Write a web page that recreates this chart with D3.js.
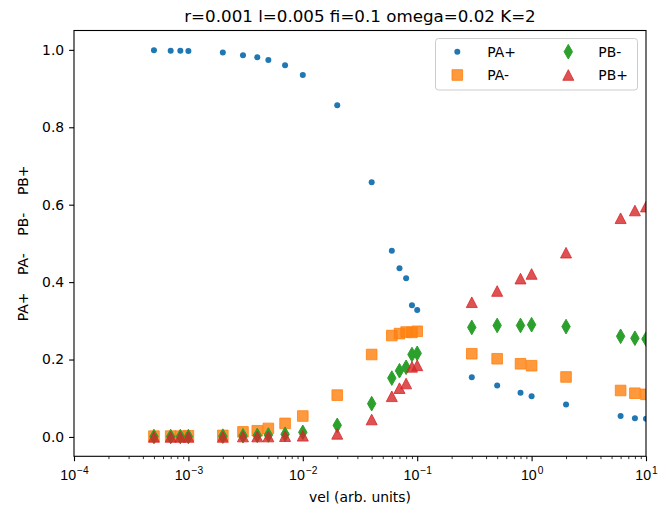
<!DOCTYPE html>
<html>
<head>
<meta charset="utf-8">
<script src="https://cdn.jsdelivr.net/npm/d3@7"></script>
<style>
  html, body { margin: 0; padding: 0; background: #fff; }
  svg { display: block; font-family: "DejaVu Sans", sans-serif; }
</style>
</head>
<body>
<svg id="chart" width="659" height="515"></svg>
<script>
// Velocity sweep (shared x values)
const vel = [5e-4, 7e-4, 8.5e-4, 1e-3, 2e-3, 3e-3, 4e-3, 5e-3, 7e-3, 1e-2, 2e-2, 4e-2,
             6e-2, 7e-2, 8e-2, 9e-2, 0.1, 0.3, 0.5, 0.8, 1, 2, 6, 8, 10];

// Populations
const paPlus  = [0.999, 0.998, 0.998, 0.997, 0.993, 0.986, 0.981, 0.974, 0.960, 0.935, 0.857, 0.658,
                 0.481, 0.436, 0.410, 0.340, 0.328, 0.154, 0.133, 0.114, 0.105, 0.084, 0.054, 0.048, 0.047];
const paMinus = [0.002, 0.002, 0.002, 0.003, 0.004, 0.013, 0.016, 0.022, 0.035, 0.054, 0.108, 0.213,
                 0.262, 0.267, 0.271, 0.270, 0.273, 0.215, 0.202, 0.189, 0.184, 0.155, 0.120, 0.113, 0.110];
const pbMinus = [0.001, 0.001, 0.001, 0.001, 0.002, 0.003, 0.004, 0.005, 0.007, 0.012, 0.030, 0.086,
                 0.152, 0.171, 0.180, 0.213, 0.216, 0.283, 0.288, 0.288, 0.290, 0.285, 0.260, 0.255, 0.253];
const pbPlus  = [0.000, 0.000, 0.000, 0.000, 0.000, 0.001, 0.001, 0.001, 0.002, 0.003, 0.008, 0.045,
                 0.105, 0.126, 0.138, 0.181, 0.185, 0.348, 0.377, 0.409, 0.421, 0.476, 0.565, 0.585, 0.595];

const seriesNames = ["PA+", "PA-", "PB-", "PB+"];
const xTickExps = [-4, -3, -2, -1, 0, 1];
const yTicks = [0.0, 0.2, 0.4, 0.6, 0.8, 1.0];
const titleText = "r=0.001 l=0.005 fi=0.1 omega=0.02 K=2";
const xLabel = "vel (arb. units)";
const yLabel = "PA+    PA-    PB-    PB+";

const svg = d3.select("#chart");
const L = 74, R = 646, T = 30.5, B = 456.3;

const x = d3.scaleLog().domain([1e-4, 10]).range([L, R]);
const y = d3.scaleLinear().domain([-0.05, 1.05]).range([B, T]);

svg.append("defs").append("clipPath").attr("id", "plotclip")
  .append("rect").attr("x", L).attr("y", T).attr("width", R - L).attr("height", B - T);

// marker shapes
const shapes = {
  "PA+": { color: "#1f77b4", alpha: 1.0, path: () => { const r = 3; return `M${r},0A${r},${r} 0 1,1 ${-r},0A${r},${r} 0 1,1 ${r},0Z`; } },
  "PA-": { color: "#ff7f0e", alpha: 0.8, path: () => { const h = 5.3; return `M${-h},${-h}H${h}V${h}H${-h}Z`; } },
  "PB-": { color: "#2ca02c", alpha: 1.0, path: () => { const w = 4.2, h = 7.3; return `M0,${-h}L${w},0L0,${h}L${-w},0Z`; } },
  "PB+": { color: "#d62728", alpha: 0.8, path: () => { const w = 5.5, h = 5.3; return `M0,${-h}L${w},${h}L${-w},${h}Z`; } }
};
const seriesData = { "PA+": paPlus, "PA-": paMinus, "PB-": pbMinus, "PB+": pbPlus };

const plot = svg.append("g").attr("clip-path", "url(#plotclip)");
seriesNames.forEach(name => {
  const s = shapes[name];
  const vals = seriesData[name];
  plot.append("g").selectAll("path").data(vel.map((v, i) => [v, vals[i]]))
    .join("path")
    .attr("transform", d => `translate(${x(d[0])},${y(d[1])})`)
    .attr("d", s.path())
    .attr("fill", s.color).attr("fill-opacity", s.alpha)
    .attr("stroke", s.color).attr("stroke-opacity", s.alpha)
    .attr("stroke-width", name === "PA+" ? 0 : 1);
});

// axes
const minorTicks = [];
for (let e = -4; e < 1; e++) for (let m = 2; m <= 9; m++) minorTicks.push(m * Math.pow(10, e));

const xAxis = svg.append("g").attr("transform", `translate(0,${B})`)
  .call(d3.axisBottom(x).tickValues(xTickExps.map(e => Math.pow(10, e))).tickSize(4.9).tickPadding(4).tickFormat(() => ""));
xAxis.select(".domain").remove();
xAxis.selectAll(".tick line").attr("stroke", "#000").attr("stroke-width", 1.1);
xAxis.selectAll(".tick text").remove();
xAxis.selectAll(".tick").each(function(d) {
  const e = Math.round(Math.log10(d));
  const t = d3.select(this).append("text")
    .attr("y", 24).attr("text-anchor", "middle").attr("fill", "#000")
    .style("font-size", "14.2px");
  t.append("tspan").text("10");
  t.append("tspan").attr("dx", 1).attr("dy", -6.3).style("font-size", "10.2px")
    .text(e < 0 ? "\u2212" + (-e) : String(e));
});

const xMinor = svg.append("g").attr("transform", `translate(0,${B})`)
  .call(d3.axisBottom(x).tickValues(minorTicks).tickSize(2.8).tickFormat(() => ""));
xMinor.select(".domain").remove();
xMinor.selectAll(".tick line").attr("stroke", "#000").attr("stroke-width", 0.8);

const yAxis = svg.append("g").attr("transform", `translate(${L},0)`)
  .call(d3.axisLeft(y).tickValues(yTicks).tickSize(4.9).tickPadding(4.9).tickFormat(d3.format(".1f")));
yAxis.select(".domain").remove();
yAxis.selectAll(".tick line").attr("stroke", "#000").attr("stroke-width", 1.1);
yAxis.selectAll(".tick text").attr("fill", "#000").style("font-size", "13.9px")
  .style("font-family", "DejaVu Sans, sans-serif");

// frame
svg.append("rect").attr("x", L).attr("y", T).attr("width", R - L).attr("height", B - T)
  .attr("fill", "none").attr("stroke", "#000").attr("stroke-width", 1.1);

// title and labels
svg.append("text").attr("x", (L + R) / 2).attr("y", 21.5).attr("text-anchor", "middle")
  .style("font-size", "16.7px").text(titleText);
svg.append("text").attr("x", (L + R) / 2).attr("y", 501.5).attr("text-anchor", "middle")
  .style("font-size", "13.9px").text(xLabel);
svg.append("text").attr("transform", `translate(27.5,${(T + B) / 2}) rotate(-90)`)
  .attr("text-anchor", "middle").style("font-size", "13.9px").style("white-space", "pre")
  .text(yLabel);

// legend
const lg = svg.append("g");
lg.append("rect").attr("x", 435.5).attr("y", 38.5).attr("width", 202).attr("height", 51.5)
  .attr("rx", 3).attr("fill", "#fff").attr("fill-opacity", 0.8)
  .attr("stroke", "#cccccc").attr("stroke-width", 1);
const legendPos = [[457.3, 51.7], [457.3, 75], [568.3, 51.7], [568.3, 75]];
seriesNames.forEach((name, i) => {
  const s = shapes[name];
  const [mx, my] = legendPos[i];
  lg.append("path").attr("transform", `translate(${mx},${my})`).attr("d", s.path())
    .attr("fill", s.color).attr("fill-opacity", s.alpha)
    .attr("stroke", s.color).attr("stroke-opacity", s.alpha)
    .attr("stroke-width", name === "PA+" ? 0 : 1);
  lg.append("text").attr("x", mx + 30).attr("y", my + 5).style("font-size", "13.9px").text(name);
});
</script>
</body>
</html>
